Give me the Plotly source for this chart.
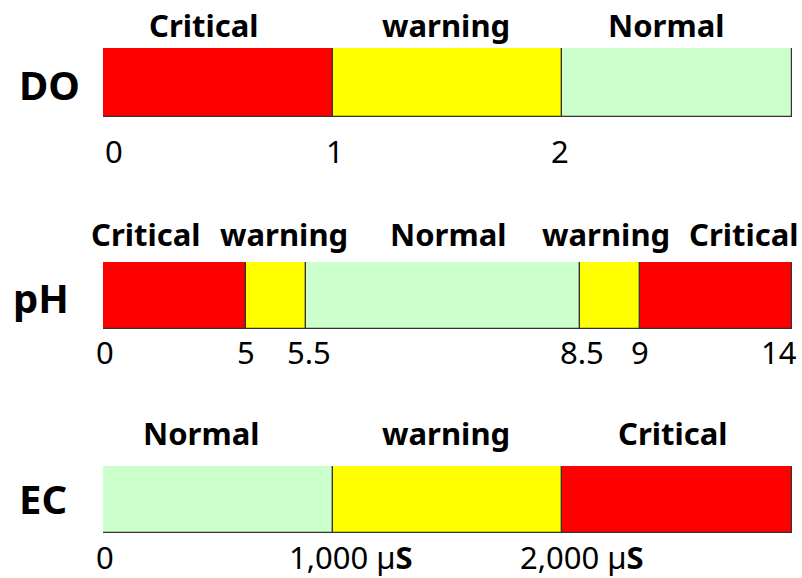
import numpy as np
import plotly.graph_objects as go

# ---------------- data ----------------
rows = ["DO", "pH", "EC"]

do_segments = [1, 1, 1]                 # 0-1, 1-2, 2-(open)
do_status = ["Critical", "warning", "Normal"]
do_tick_values = [0, 1, 2]
do_tick_text = ["0", "1", "2"]

ph_breaks = [0, 5, 5.5, 8.5, 9, 14]
ph_status = ["Critical", "warning", "Normal", "warning", "Critical"]
ph_tick_text = ["0", "5", "5.5", "8.5", "9", "14"]

ec_segments = [1000, 1000, 1000]        # µS
ec_status = ["Normal", "warning", "Critical"]
ec_tick_values = [0, 1000, 2000]
ec_tick_text = ["0", "1,000 µ<b>S</b>", "2,000 µ<b>S</b>"]

# ---------------- styling ----------------
W, H = 802, 578
status_color = {"Critical": "#FF0000", "warning": "#FFFF00", "Normal": "#CCFFCC"}
# schematic (not-to-scale) drawing widths of the pH zones
ph_draw_widths = [2.9, 1.22, 5.57, 1.22, 3.09]

bar_x0, bar_x1 = 103, 792
bar_px = {"DO": (48, 117), "pH": (262, 329), "EC": (466, 533)}
label_font = dict(family="Noto Sans", size=31, color="black")
num_font = dict(family="Noto Sans", size=31, color="black")
row_font = dict(family="Noto Sans", size=40, color="black")


def py(px):
    return 1 - px / H


fig = go.Figure()

axes = {"DO": ("x", "y", ""), "pH": ("x2", "y2", "2"), "EC": ("x3", "y3", "3")}


def add_bar(row, widths, status):
    xr, yr, _ = axes[row]
    widths = np.asarray(widths, dtype=float)
    bases = np.concatenate([[0], np.cumsum(widths)[:-1]])
    fig.add_trace(go.Bar(
        x=widths, base=bases, y=[0] * len(widths), orientation="h",
        width=1, xaxis=xr, yaxis=yr,
        marker=dict(color=[status_color[s] for s in status],
                    line=dict(color="#333333", width=1.2)),
        hoverinfo="skip", showlegend=False))
    return bases, widths


do_b, do_w = add_bar("DO", do_segments, do_status)
ph_w_draw = np.asarray(ph_draw_widths)
ph_b, ph_w = add_bar("pH", ph_w_draw, ph_status)
ec_b, ec_w = add_bar("EC", ec_segments, ec_status)

layout = dict(width=W, height=H, margin=dict(l=0, r=0, t=0, b=0),
              paper_bgcolor="white", plot_bgcolor="white", bargap=0)
ranges = {"DO": [0, float(np.sum(do_w))], "pH": [0, float(np.sum(ph_w))],
          "EC": [0, float(np.sum(ec_w))]}
for row in rows:
    _, _, suf = axes[row]
    t, b = bar_px[row]
    layout["xaxis" + suf] = dict(domain=[bar_x0 / W, bar_x1 / W], range=ranges[row],
                                 visible=False, fixedrange=True,
                                 anchor="y" + suf)
    layout["yaxis" + suf] = dict(domain=[py(b), py(t)], range=[-0.5, 0.5],
                                 visible=False, fixedrange=True,
                                 anchor="x" + suf)
fig.update_layout(**layout)

anns = []

# status labels above bars
label_y = {"DO": 25, "pH": 234, "EC": 433}
label_shift = {"DO": [-14, -2, -11], "pH": [-28, 8, 5, -4, 28], "EC": [-17, -2, -4]}
for row, b, w, st in [("DO", do_b, do_w, do_status), ("pH", ph_b, ph_w, ph_status),
                      ("EC", ec_b, ec_w, ec_status)]:
    xr = axes[row][0]
    for i, s in enumerate(st):
        anns.append(dict(x=b[i] + w[i] / 2, y=py(label_y[row]), xref=xr, yref="paper",
                         text="<b>%s</b>" % s, showarrow=False, font=label_font,
                         xanchor="center", yanchor="middle", xshift=label_shift[row][i]))

# tick labels below bars
ph_draw_breaks = np.concatenate([[0], np.cumsum(ph_w)])
tick_sets = [
    ("DO", do_tick_values, do_tick_text, 151, [11, 2, -2]),
    ("pH", list(ph_draw_breaks), ph_tick_text, 352, [1.5, 0, 3, 2, 0, -13]),
    ("EC", ec_tick_values, ec_tick_text, 557, [1.5, 18.5, 20]),
]
for row, vals, txts, ypx, shifts in tick_sets:
    xr = axes[row][0]
    for v, t, s in zip(vals, txts, shifts):
        anns.append(dict(x=v, y=py(ypx), xref=xr, yref="paper", text=t,
                         showarrow=False, font=num_font, xanchor="center",
                         yanchor="middle", xshift=s))

# row names
row_pos = {"DO": (49, 84), "pH": (41, 297), "EC": (43, 498)}
for row in rows:
    x, y = row_pos[row]
    anns.append(dict(x=x / W, y=py(y), xref="paper", yref="paper", text="<b>%s</b>" % row,
                     showarrow=False, font=row_font, xanchor="center", yanchor="middle"))

fig.update_layout(annotations=anns)
fig.write_html("out.html", config={"displayModeBar": False},
               post_script="document.body.style.margin='0';")
